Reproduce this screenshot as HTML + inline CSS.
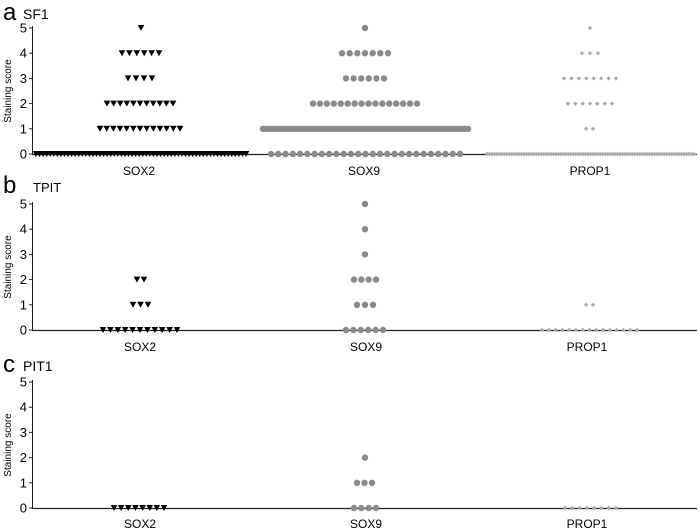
<!DOCTYPE html>
<html><head><meta charset="utf-8"><style>
html,body{margin:0;padding:0;background:#fff;}
svg{display:block;font-family:"Liberation Sans",Arial,sans-serif;}
</style></head><body>
<svg id="s" width="700" height="530" viewBox="0 0 700 530" xmlns="http://www.w3.org/2000/svg">
<text x="3" y="20" font-size="24">a</text><text x="23" y="19" font-size="14">SF1</text>
<text x="3" y="193" font-size="24">b</text><text x="33" y="192" font-size="13">TPIT</text>
<text x="3" y="372" font-size="24">c</text><text x="23" y="371" font-size="14">PIT1</text>
<text x="139" y="175" font-size="12" text-anchor="middle">SOX2</text>
<text x="364" y="175" font-size="12" text-anchor="middle">SOX9</text>
<text x="590" y="175" font-size="12" text-anchor="middle">PROP1</text>
<text x="140" y="351" font-size="12" text-anchor="middle">SOX2</text>
<text x="366" y="351" font-size="12" text-anchor="middle">SOX9</text>
<text x="587" y="351" font-size="12" text-anchor="middle">PROP1</text>
<text x="140" y="528" font-size="12" text-anchor="middle">SOX2</text>
<text x="366" y="528" font-size="12" text-anchor="middle">SOX9</text>
<text x="587" y="528" font-size="12" text-anchor="middle">PROP1</text>
<text transform="translate(11,91) rotate(-90)" font-size="10" text-anchor="middle">Staining score</text>
<text transform="translate(11,267) rotate(-90)" font-size="10" text-anchor="middle">Staining score</text>
<text transform="translate(11,445) rotate(-90)" font-size="10" text-anchor="middle">Staining score</text>
<g id="g"></g>
</svg>
<script>
var g=document.getElementById('g'),h='';
function axis(z){
  h+='<line x1="32.5" y1="'+(z-128)+'" x2="32.5" y2="'+z+'" stroke="#222" stroke-width="1"/>';
  h+='<line x1="32" y1="'+(z+0.5)+'" x2="697" y2="'+(z+0.5)+'" stroke="#222" stroke-width="1.2"/>';
  for(var i=0;i<=5;i++){var y=z-i*25.2;
    h+='<line x1="29" y1="'+y+'" x2="32.5" y2="'+y+'" stroke="#222"/>';
    h+='<text x="27" y="'+(y+4.5)+'" font-size="13" text-anchor="end">'+i+'</text>';}
}
function row(type,y,x1,x2,n){
  for(var i=0;i<n;i++){var x=n==1?x1:x1+(x2-x1)*i/(n-1);
    if(type==0)h+='<path d="M'+(x-3.3)+' '+(y-3)+'L'+(x+3.3)+' '+(y-3)+'L'+x+' '+(y+3)+'Z" fill="#000"/>';
    else if(type==1)h+='<circle cx="'+x+'" cy="'+y+'" r="3.2" fill="#8a8a8a"/>';
    else h+='<path d="M'+(x-2.2)+' '+y+'L'+x+' '+(y-2.2)+'L'+(x+2.2)+' '+y+'L'+x+' '+(y+2.2)+'Z" fill="#aaa"/>';}
}
function P(z,type,lvl,x1,x2,n){row(type,z-lvl*25.2,x1,x2,n);}
var z=154;axis(z);
P(z,0,5,141,141,1);P(z,0,4,122,159,6);P(z,0,3,128,152,4);P(z,0,2,107,173,11);P(z,0,1,100,180,13);P(z,0,0,36,246,60);
P(z,1,5,365,365,1);P(z,1,4,342,388,7);P(z,1,3,346,384,6);P(z,1,2,313,417,16);P(z,1,1,263,468,60);P(z,1,0,271,460,27);
P(z,2,5,590,590,1);P(z,2,4,582,598,3);P(z,2,3,564,616,8);P(z,2,2,568,612,7);P(z,2,1,586,593,2);P(z,2,0,487,694,85);
z=330;axis(z);
P(z,0,2,137,144,2);P(z,0,1,133,148,3);P(z,0,0,103,177,11);
P(z,1,5,365,365,1);P(z,1,4,365,365,1);P(z,1,3,365,365,1);P(z,1,2,354,376,4);P(z,1,1,357,373,3);P(z,1,0,346,383,6);
P(z,2,1,586,593,2);P(z,2,0,542,637,15);
z=508;axis(z);
P(z,0,0,114,164,8);
P(z,1,2,365,365,1);P(z,1,1,357,372,3);P(z,1,0,354,376,4);
P(z,2,0,565,616,8);
g.innerHTML=h;
</script>
</body></html>
